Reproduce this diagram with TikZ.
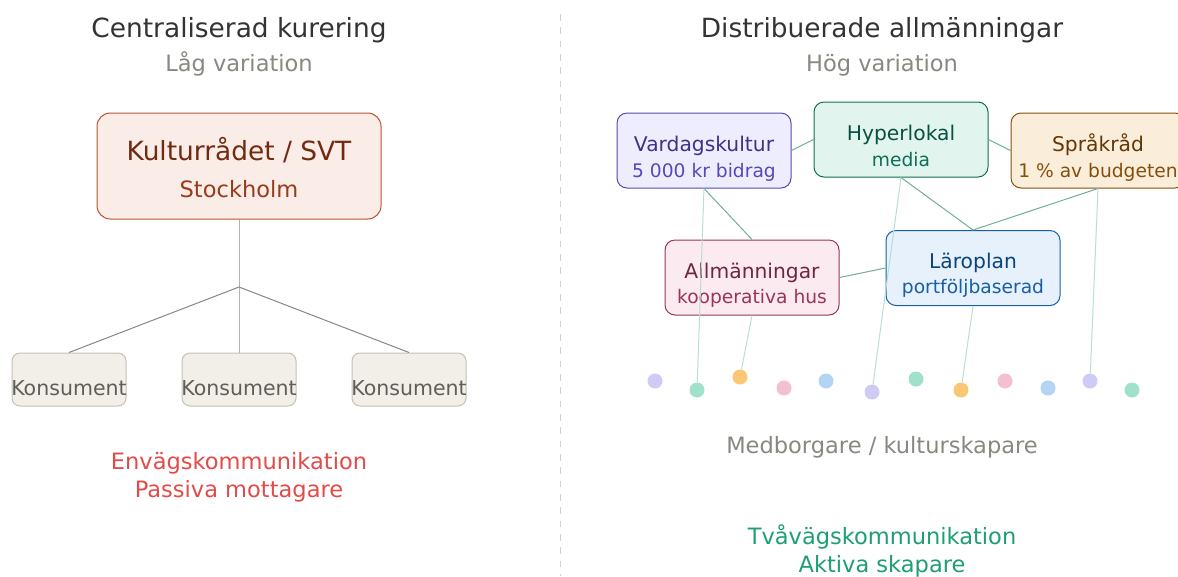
\documentclass[tikz,border=0pt]{standalone}
\usepackage{fontspec}
\setmainfont{DejaVu Sans}
\usetikzlibrary{calc}

\definecolor{titlecol}{HTML}{333333}
\definecolor{subcol}{HTML}{888780}
\definecolor{divcol}{HTML}{D3D1C7}
\definecolor{kulturfill}{HTML}{FAECE7}
\definecolor{kulturline}{HTML}{B8552F}
\definecolor{kulturtext}{HTML}{712B13}
\definecolor{kultursub}{HTML}{993C1D}
\definecolor{konsfill}{HTML}{F1EFE8}
\definecolor{konsline}{HTML}{C4C1B6}
\definecolor{konstext}{HTML}{5F5E5A}
\definecolor{stemcol}{HTML}{B4B2A9}
\definecolor{diagcol}{HTML}{888780}
\definecolor{oneway}{HTML}{E24B4A}
\definecolor{twoway}{HTML}{1D9E75}
\definecolor{purplefill}{HTML}{EEEDFE}
\definecolor{purpleline}{HTML}{534AB7}
\definecolor{purpletext}{HTML}{3C3489}
\definecolor{tealfill}{HTML}{E1F5EE}
\definecolor{tealline}{HTML}{0F6E56}
\definecolor{tealtext}{HTML}{085041}
\definecolor{amberfill}{HTML}{FAEEDA}
\definecolor{amberline}{HTML}{854F0B}
\definecolor{ambertext}{HTML}{633806}
\definecolor{pinkfill}{HTML}{FBEAF0}
\definecolor{pinkline}{HTML}{993556}
\definecolor{pinktext}{HTML}{72243E}
\definecolor{bluefill}{HTML}{E6F1FB}
\definecolor{blueline}{HTML}{185FA5}
\definecolor{bluetext}{HTML}{0C447C}
\definecolor{linkcol}{HTML}{6FAE98}
\definecolor{threadcol}{HTML}{B9DFD2}
\definecolor{dotpurple}{HTML}{CECBF6}
\definecolor{dotgreen}{HTML}{9FE1CB}
\definecolor{dotorange}{HTML}{FAC775}
\definecolor{dotpink}{HTML}{F4C0D1}
\definecolor{dotblue}{HTML}{B5D4F4}

\newcommand{\fsbig}{\fontsize{19.8pt}{24pt}\selectfont}
\newcommand{\fsmid}{\fontsize{16.9pt}{20pt}\selectfont}
\newcommand{\fskons}{\fontsize{15.4pt}{18pt}\selectfont}
\newcommand{\fsbox}{\fontsize{15.2pt}{18pt}\selectfont}
\newcommand{\fsboxsub}{\fontsize{14pt}{17pt}\selectfont}

\begin{document}
\begin{tikzpicture}[x=0.75pt,y=-0.75pt,
  txt/.style={anchor=base,inner sep=0pt},
  box/.style={draw,line width=0.75pt,rounded corners=7.5pt,minimum width=130.5pt,minimum height=56.25pt,inner sep=0pt},
  konsbox/.style={draw=konsline,fill=konsfill,line width=0.75pt,rounded corners=6pt,minimum width=85.5pt,minimum height=39.75pt,inner sep=0pt},
  link/.style={linkcol,line width=0.75pt},
  thread/.style={threadcol,line width=0.75pt},
  dot/.style={circle,inner sep=0pt,minimum size=11.25pt}]

  \useasboundingbox (0,0) rectangle (1178,576);

  % divider
  \draw[divcol, line width=0.75pt, dash pattern=on 5pt off 5pt] (560,14) -- (560,576);

  % left side: centralised
  \draw (239,37) node (ltitle) [txt, text=titlecol] {\fsbig Centraliserad kurering};
  \draw (239,71) node (lsub) [txt, text=subcol] {\fsmid Låg variation};

  \draw (239,166) node (kultur) [box, draw=kulturline, fill=kulturfill, rounded corners=10pt, minimum width=213pt, minimum height=79.5pt] {};
  \draw (239,160) node (kulturT) [txt, text=kulturtext] {\fsbig Kulturrådet / SVT};
  \draw (239,197) node (kulturS) [txt, text=kultursub] {\fsmid Stockholm};

  \foreach \x/\n in {69/1,239/2,409/3} {
    \draw (\x,379.5) node (kons\n) [konsbox] {};
    \draw (\x,395) node (konsT\n) [txt, text=konstext] {\fskons Konsument};
  }

  \coordinate (hub) at (239,287);
  \draw[stemcol, line width=0.75pt] (kultur) -- (kons2);
  \draw[diagcol, line width=0.75pt] (kons1.north) -- (hub) -- (kons3.north);

  \draw (239,469) node (oneT) [txt, text=oneway] {\fsmid Envägskommunikation};
  \draw (239,497) node (oneS) [txt, text=oneway] {\fsmid Passiva mottagare};

  % right side: distributed
  \draw (882,37) node (rtitle) [txt, text=titlecol] {\fsbig Distribuerade allmänningar};
  \draw (882,71) node (rsub) [txt, text=subcol] {\fsmid Hög variation};

  \draw (704,150.5) node (vardag) [box, draw=purpleline, fill=purplefill] {};
  \draw (704,151) node (vardagT) [txt, text=purpletext] {\fsbox Vardagskultur};
  \draw (704,177) node (vardagS) [txt, text=purpleline] {\fsboxsub 5 000 kr bidrag};

  \draw (901,139.5) node (hyper) [box, draw=tealline, fill=tealfill] {};
  \draw (901,140) node (hyperT) [txt, text=tealtext] {\fsbox Hyperlokal};
  \draw (901,166) node (hyperS) [txt, text=tealline] {\fsboxsub media};

  \draw (1098,150.5) node (sprak) [box, draw=amberline, fill=amberfill] {};
  \draw (1098,151) node (sprakT) [txt, text=ambertext] {\fsbox Språkråd};
  \draw (1098,177) node (sprakS) [txt, text=amberline] {\fsboxsub 1 \% av budgeten};

  \draw (752,277.5) node (allm) [box, draw=pinkline, fill=pinkfill] {};
  \draw (752,278) node (allmT) [txt, text=pinktext] {\fsbox Allmänningar};
  \draw (752,303) node (allmS) [txt, text=pinkline] {\fsboxsub kooperativa hus};

  \draw (973,268) node (laro) [box, draw=blueline, fill=bluefill] {};
  \draw (973,268) node (laroT) [txt, text=bluetext] {\fsbox Läroplan};
  \draw (973,293) node (laroS) [txt, text=blueline] {\fsboxsub portföljbaserad};

  \draw[link] (vardag.east) -- (hyper.west);
  \draw[link] (hyper.east) -- (sprak.west);
  \draw[link] (vardag.south) -- (allm.north);
  \draw[link] (hyper.south) -- (laro.north);
  \draw[link] (sprak.south) -- (laro.north);
  \draw[link] (allm.east) -- (laro.west);

  % citizens
  \foreach \i/\x/\y/\c in {1/655/381/dotpurple, 2/697/390/dotgreen, 3/740/377/dotorange,
      4/784/388/dotpink, 5/826/381/dotblue, 6/872/392/dotpurple, 7/916/379/dotgreen,
      8/961/390/dotorange, 9/1005/381/dotpink, 10/1048/388/dotblue, 11/1090/381/dotpurple,
      12/1132/390/dotgreen}
    \draw (\x,\y) node (d\i) [dot, fill=\c] {};

  \draw[thread] (vardag.south) -- (d2);
  \draw[thread] (allm.south) -- (d3);
  \draw[thread] (hyper.south) -- (d6);
  \draw[thread] (laro.south) -- (d8);
  \draw[thread] (sprak.south) -- (d11);

  \draw (882,453) node (folk) [txt, text=subcol] {\fsmid Medborgare / kulturskapare};

  \draw (882,544) node (twoT) [txt, text=twoway] {\fsmid Tvåvägskommunikation};
  \draw (882,572) node (twoS) [txt, text=twoway] {\fsmid Aktiva skapare};

\end{tikzpicture}
\end{document}
